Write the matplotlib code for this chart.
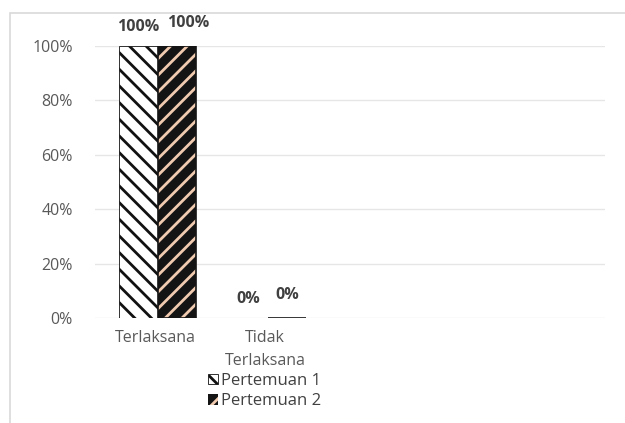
import matplotlib
matplotlib.use("Agg")
from matplotlib import pyplot as plt
from matplotlib.patches import Patch, Rectangle
import numpy as np

categories = ["Terlaksana", "Tidak\nTerlaksana"]
pertemuan_1 = [1.00, 0.00]
pertemuan_2 = [1.00, 0.00]
series_names = ["Pertemuan 1", "Pertemuan 2"]
yticks = [0, 0.2, 0.4, 0.6, 0.8, 1.0]

plt.rcParams["font.family"] = ["Open Sans", "DejaVu Sans"]
plt.rcParams["hatch.linewidth"] = 2.0

fig = plt.figure(figsize=(6.25, 4.23), dpi=100)
# light frame of the chart area
fig.patches.append(Rectangle((10 / 625, -0.1), 1.2, 1 - 13 / 423 + 0.1,
                             transform=fig.transFigure, fill=False,
                             edgecolor="#d9d9d9", linewidth=1.2))

ax = fig.add_axes([95 / 625, 1 - 318 / 423, 510 / 625, 272 / 423])
x = np.arange(len(categories))
w = 0.35

b1 = ax.bar(x - 0.15, pertemuan_1, w, facecolor="white", edgecolor="#111111",
            hatch="\\\\", linewidth=0.6, zorder=3)
# dark bar with light peach stripes (hatch colour = edge colour)
b2 = ax.bar(x + 0.2, pertemuan_2, w, facecolor="#141414", edgecolor="#f0cbb0",
            hatch="//", linewidth=0, zorder=3)
ax.bar(x + 0.2, pertemuan_2, w, fill=False, edgecolor="#141414", linewidth=1.2, zorder=4)

for bars, vals, dx, dy in [(b1, pertemuan_1, 0.0, 0.0), (b2, pertemuan_2, 0.1, 0.015)]:
    for r, v in zip(bars, vals):
        ax.text(r.get_x() + r.get_width() / 2 + dx * v, v + 0.04 + dy, f"{v:.0%}",
                ha="center", va="bottom", fontsize=11.5, fontweight="bold",
                color="#404040")

ax.set_xlim(-60 / 110, -60 / 110 + 510 / 110)
ax.set_ylim(0, 1.0)
ax.set_yticks(yticks)
ax.set_yticklabels([f"{t:.0%}" for t in yticks])
ax.set_xticks(x)
ax.set_xticklabels(categories, linespacing=1.55, fontsize=12)
ax.tick_params(length=0, colors="#595959", labelsize=11.5)
ax.tick_params(axis="y", pad=16)
ax.tick_params(axis="x", pad=9)
ax.grid(axis="y", color="#e6e6e6", linewidth=1, zorder=0)
for s in ax.spines.values():
    s.set_visible(False)

handles = [Patch(facecolor="white", edgecolor="#111111", hatch="\\\\", linewidth=0.6),
           Patch(facecolor="#141414", edgecolor="#f0cbb0", hatch="//", linewidth=0)]
fig.legend(handles, series_names, loc="upper left", bbox_to_anchor=(208 / 625, 1 - 373 / 423),
           frameon=False, fontsize=12, handlelength=0.6, handleheight=0.6,
           handletextpad=0.2, labelspacing=0.25, labelcolor="#404040",
           borderaxespad=0, borderpad=0.0)

fig.savefig("out.png", dpi=100)
